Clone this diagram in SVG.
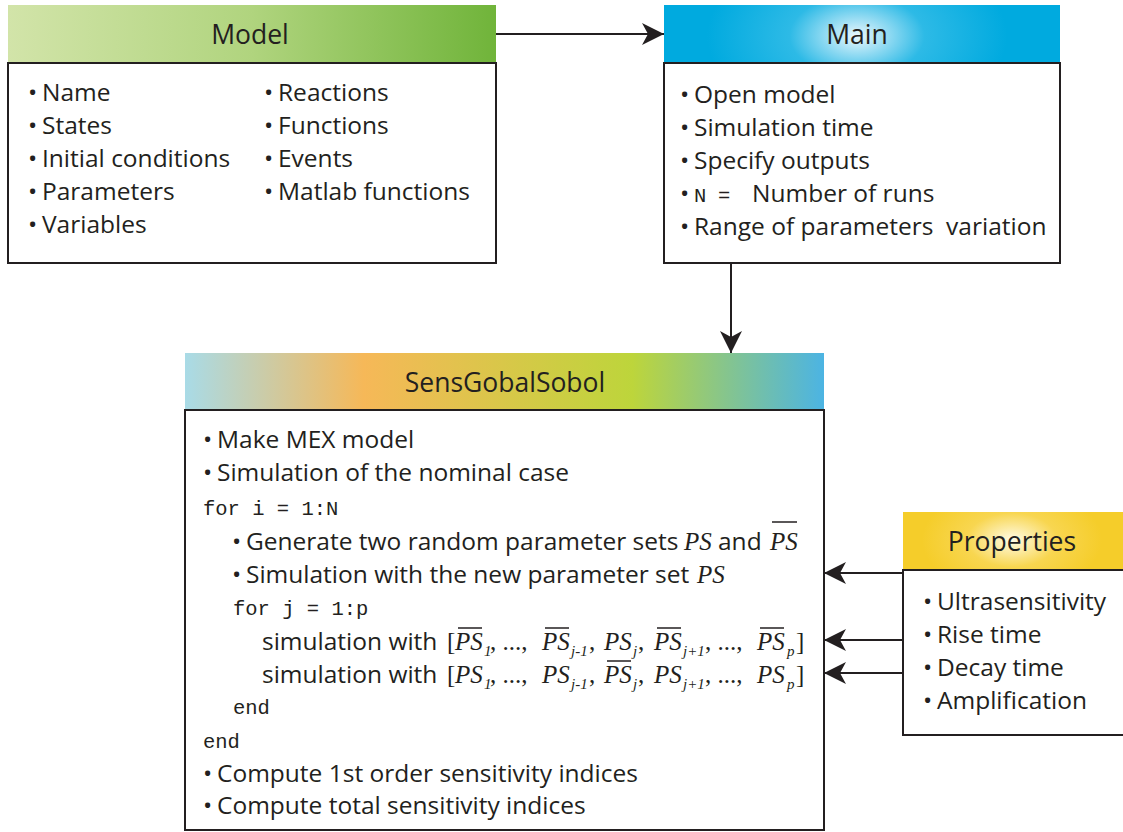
<svg xmlns="http://www.w3.org/2000/svg" width="1123" height="832" viewBox="0 0 1123 832">
<defs>
<linearGradient id="gModel" x1="0" y1="0" x2="1" y2="0">
<stop offset="0" stop-color="#d2e4a9"/>
<stop offset="0.5" stop-color="#b0d47e"/>
<stop offset="1" stop-color="#70b43a"/>
</linearGradient>
<radialGradient id="gMain" cx="857" cy="36" r="150" gradientUnits="userSpaceOnUse" gradientTransform="translate(857 36) scale(1 0.6) translate(-857 -36)">
<stop offset="0" stop-color="#eaf7fd"/>
<stop offset="0.45" stop-color="#2dbae6"/>
<stop offset="1" stop-color="#00aadf"/>
</radialGradient>
<linearGradient id="gSens" x1="0" y1="0" x2="1" y2="0">
<stop offset="0" stop-color="#a9dbe7"/>
<stop offset="0.28" stop-color="#f6b858"/>
<stop offset="0.70" stop-color="#bdd53b"/>
<stop offset="1" stop-color="#4cb4e3"/>
</linearGradient>
<radialGradient id="gProp" cx="1012" cy="540" r="90" gradientUnits="userSpaceOnUse" gradientTransform="translate(1012 540) scale(1 0.6) translate(-1012 -540)">
<stop offset="0" stop-color="#fffbe6"/>
<stop offset="0.5" stop-color="#f8d650"/>
<stop offset="1" stop-color="#f5cd2a"/>
</radialGradient>
<marker id="arr" markerUnits="userSpaceOnUse" markerWidth="22" markerHeight="22" refX="22" refY="11" orient="auto">
<path d="M0,0 L22,11 L0,22 L6,11 Z" fill="#231f20"/>
</marker>
<style>
.box{fill:#fff;stroke:#231f20;stroke-width:2}
.t{font-family:"Open Sans","Noto Sans",sans-serif;font-size:24.5px;fill:#231f20}
.title{font-family:"Open Sans","Noto Sans",sans-serif;font-size:26.5px;fill:#231f20;text-anchor:middle}
.mono{font-family:"Liberation Mono","DejaVu Sans Mono",monospace;font-size:20.5px;fill:#231f20}
.m{font-family:"Liberation Serif","Times New Roman",serif;font-style:italic;font-size:25px}
.r{font-family:"Liberation Serif","Times New Roman",serif;font-style:normal;font-size:25px}
.s{font-family:"Liberation Serif","Times New Roman",serif;font-style:italic;font-size:15px}
.ol{stroke:#231f20;stroke-width:1.5}
.conn{stroke:#231f20;stroke-width:2;fill:none;marker-end:url(#arr)}
</style>
</defs>

<g id="connectors">
<line class="conn" x1="496" y1="34" x2="664" y2="34"/>
<line class="conn" x1="731" y1="263" x2="731" y2="353"/>
<line class="conn" x1="903" y1="573" x2="824" y2="573"/>
<line class="conn" x1="903" y1="640" x2="824" y2="640"/>
<line class="conn" x1="903" y1="673" x2="824" y2="673"/>
</g>

<g id="model">
<rect x="8" y="5" width="488" height="58" fill="url(#gModel)"/>
<rect class="box" x="8" y="63" width="488" height="200"/>
<text class="title" x="250" y="44">Model</text>
<text class="t"><tspan x="28" y="101">•</tspan><tspan x="42" y="101">Name</tspan></text>
<text class="t"><tspan x="28" y="134">•</tspan><tspan x="42" y="134">States</tspan></text>
<text class="t"><tspan x="28" y="167">•</tspan><tspan x="42" y="167">Initial conditions</tspan></text>
<text class="t"><tspan x="28" y="200">•</tspan><tspan x="42" y="200">Parameters</tspan></text>
<text class="t"><tspan x="28" y="233">•</tspan><tspan x="42" y="233">Variables</tspan></text>
<text class="t"><tspan x="264" y="101">•</tspan><tspan x="278" y="101">Reactions</tspan></text>
<text class="t"><tspan x="264" y="134">•</tspan><tspan x="278" y="134">Functions</tspan></text>
<text class="t"><tspan x="264" y="167">•</tspan><tspan x="278" y="167">Events</tspan></text>
<text class="t"><tspan x="264" y="200">•</tspan><tspan x="278" y="200">Matlab functions</tspan></text>
</g>

<g id="main">
<rect x="664" y="5" width="396" height="58" fill="url(#gMain)"/>
<rect class="box" x="664" y="63" width="396" height="200"/>
<text class="title" x="857" y="44">Main</text>
<text class="t"><tspan x="680" y="103">•</tspan><tspan x="694" y="103">Open model</tspan></text>
<text class="t"><tspan x="680" y="136">•</tspan><tspan x="694" y="136">Simulation time</tspan></text>
<text class="t"><tspan x="680" y="169">•</tspan><tspan x="694" y="169">Specify outputs</tspan></text>
<text class="t"><tspan x="680" y="202">•</tspan><tspan class="mono" x="694" y="202">N</tspan><tspan class="mono" x="718" y="202">=</tspan><tspan x="752" y="202">Number of runs</tspan></text>
<text class="t" style="white-space:pre"><tspan x="680" y="235">•</tspan><tspan x="694" y="235">Range of parameters  variation</tspan></text>
</g>

<g id="sensgobalsobol">
<rect x="185" y="353" width="639" height="57" fill="url(#gSens)"/>
<rect class="box" x="185" y="410" width="639" height="420"/>
<text class="title" x="505" y="392">SensGobalSobol</text>
<text class="t"><tspan x="203" y="448">•</tspan><tspan x="217" y="448">Make MEX model</tspan></text>
<text class="t"><tspan x="203" y="481">•</tspan><tspan x="217" y="481">Simulation of the nominal case</tspan></text>
<text class="mono" x="203" y="515">for i = 1:N</text>
<text class="t"><tspan x="232" y="550">•</tspan><tspan x="246" y="550">Generate two random parameter sets</tspan><tspan class="m" x="684">PS</tspan><tspan x="718">and</tspan><tspan class="m" x="770">PS</tspan></text>
<line class="ol" x1="772" y1="522" x2="797" y2="522"/>
<text class="t"><tspan x="232" y="583">•</tspan><tspan x="246" y="583">Simulation with the new parameter set</tspan><tspan class="m" x="697">PS</tspan></text>
<text class="mono" x="233" y="615">for j = 1:p</text>

<text class="t"><tspan x="262" y="650">simulation with</tspan><tspan class="r" x="447">[</tspan><tspan class="m" x="455">PS</tspan><tspan class="s" x="484" y="656">1</tspan><tspan class="r" x="490" y="650">, ..., </tspan><tspan class="m" x="542">PS</tspan><tspan class="s" x="571" y="656">j-1</tspan><tspan class="r" x="589" y="650">, </tspan><tspan class="m" x="604">PS</tspan><tspan class="s" x="633" y="656">j</tspan><tspan class="r" x="638" y="650">, </tspan><tspan class="m" x="654">PS</tspan><tspan class="s" x="683" y="656">j+1</tspan><tspan class="r" x="705" y="650">, ..., </tspan><tspan class="m" x="757">PS</tspan><tspan class="s" x="787" y="656">p</tspan><tspan class="r" x="796" y="650">]</tspan></text>
<line class="ol" x1="458" y1="628" x2="482" y2="628"/>
<line class="ol" x1="545" y1="628" x2="569" y2="628"/>
<line class="ol" x1="657" y1="628" x2="681" y2="628"/>
<line class="ol" x1="760" y1="628" x2="784" y2="628"/>

<text class="t"><tspan x="262" y="683">simulation with</tspan><tspan class="r" x="447">[</tspan><tspan class="m" x="455">PS</tspan><tspan class="s" x="484" y="689">1</tspan><tspan class="r" x="490" y="683">, ..., </tspan><tspan class="m" x="542">PS</tspan><tspan class="s" x="571" y="689">j-1</tspan><tspan class="r" x="589" y="683">, </tspan><tspan class="m" x="604">PS</tspan><tspan class="s" x="633" y="689">j</tspan><tspan class="r" x="638" y="683">, </tspan><tspan class="m" x="654">PS</tspan><tspan class="s" x="683" y="689">j+1</tspan><tspan class="r" x="705" y="683">, ..., </tspan><tspan class="m" x="757">PS</tspan><tspan class="s" x="787" y="689">p</tspan><tspan class="r" x="796" y="683">]</tspan></text>
<line class="ol" x1="607" y1="661" x2="631" y2="661"/>

<text class="mono" x="233" y="714">end</text>
<text class="mono" x="203" y="748">end</text>
<text class="t"><tspan x="203" y="782">•</tspan><tspan x="217" y="782">Compute 1st order sensitivity indices</tspan></text>
<text class="t"><tspan x="203" y="814">•</tspan><tspan x="217" y="814">Compute total sensitivity indices</tspan></text>
</g>

<g id="properties">
<rect x="903" y="512" width="222" height="58" fill="url(#gProp)"/>
<rect class="box" x="903" y="570" width="222" height="165"/>
<text class="title" x="1012" y="551">Properties</text>
<text class="t"><tspan x="923" y="610">•</tspan><tspan x="937" y="610">Ultrasensitivity</tspan></text>
<text class="t"><tspan x="923" y="643">•</tspan><tspan x="937" y="643">Rise time</tspan></text>
<text class="t"><tspan x="923" y="676">•</tspan><tspan x="937" y="676">Decay time</tspan></text>
<text class="t"><tspan x="923" y="709">•</tspan><tspan x="937" y="709">Amplification</tspan></text>
</g>
</svg>
